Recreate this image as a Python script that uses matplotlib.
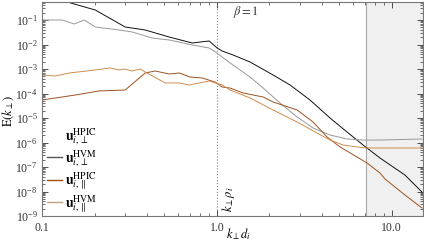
import matplotlib
matplotlib.use("Agg")
import matplotlib.pyplot as plt
from matplotlib.lines import Line2D
from matplotlib.ticker import LogLocator, FixedLocator, FixedFormatter, NullFormatter

plt.rcParams['font.family'] = ['Liberation Serif', 'DejaVu Serif']
plt.rcParams['mathtext.fontset'] = 'stix'

# HPIC perpendicular (black)
k_hpic_perp = [0.100, 0.1395, 0.2017, 0.299, 0.389, 0.534, 0.723, 0.803, 0.904, 1.004, 1.072,
               1.239, 1.549, 2.098, 2.624, 3.41, 4.44, 5.55, 6.86, 8.57, 11.9, 14.9]
E_hpic_perp = [1.0, 0.543, 0.256, 0.0518, 0.0391, 0.0202, 0.0115, 0.01265, 0.0139, 0.0072, 0.00543,
               0.00372, 0.00193, 5.69e-4, 2.22e-4, 5.43e-5, 1.0e-5, 2.69e-6, 7.9e-7, 2.33e-7, 4.71e-8, 9.5e-9]

# HVM perpendicular (gray)
k_hvm_perp = [0.100, 0.1306, 0.153, 0.1745, 0.2017, 0.2765, 0.328, 0.4266, 0.534, 0.723, 0.904, 1.004,
              1.072, 1.191, 1.549, 1.839, 2.30, 2.877, 3.55, 4.44, 5.55, 6.86, 8.57, 14.9]
E_hvm_perp = [0.1, 0.1, 0.0687, 0.1, 0.0518, 0.0391, 0.0324, 0.0184, 0.0153, 0.00955, 0.0072, 0.0045,
              0.00309, 0.00176, 4.71e-4, 1.67e-4, 4.09e-5, 1.1e-5, 3.91e-6, 2.02e-6, 1.39e-6, 1.26e-6, 1.26e-6, 1.39e-6]

# HPIC parallel (dark brown)
k_hpic_par = [0.100, 0.155, 0.212, 0.299, 0.389, 0.444, 0.534, 0.609, 0.703, 0.824, 0.978, 1.072,
              1.191, 1.413, 1.839, 2.098, 2.877, 3.55, 4.27, 5.07, 6.33, 7.22, 8.57, 9.16, 11.9, 14.9]
E_hpic_par = [5.43e-5, 8.69e-5, 1.27e-4, 1.39e-4, 6.87e-4, 8.28e-4, 6.25e-4, 6.87e-4, 4.71e-4, 4.3e-4, 2.94e-4, 1.84e-4,
              1.67e-4, 1.05e-4, 7.2e-5, 4.5e-5, 2.12e-5, 6.87e-6, 1.67e-6, 6.55e-7, 2.56e-7, 1.46e-7, 5.69e-8, 3.24e-8, 7.2e-9, 2.12e-9]

# HVM parallel (light orange)
k_hvm_par = [0.100, 0.119, 0.143, 0.2017, 0.2455, 0.2765, 0.295, 0.328, 0.365, 0.389, 0.507, 0.609, 0.695,
             0.904, 1.072, 1.191, 1.549, 2.098, 2.877, 3.74, 4.44, 5.27, 6.33, 7.22, 8.57, 14.9]
E_hvm_par = [5.69e-4, 5.18e-4, 6.87e-4, 9.12e-4, 1.1e-3, 9.12e-4, 1.0e-3, 8.28e-4, 1.0e-3, 7.55e-4, 2.69e-4, 2.69e-4, 2.22e-4,
             3.24e-4, 2.22e-4, 1.39e-4, 6.55e-5, 2.12e-5, 6.87e-6, 2.44e-6, 1.26e-6, 7.9e-7, 6.55e-7, 5.97e-7, 5.97e-7, 5.97e-7]

labels = [r'$\mathbf{u}_{i,\perp}^{\mathrm{HPIC}}$', r'$\mathbf{u}_{i,\perp}^{\mathrm{HVM}}$',
          r'$\mathbf{u}_{i,\parallel}^{\mathrm{HPIC}}$', r'$\mathbf{u}_{i,\parallel}^{\mathrm{HVM}}$']
xticks = [0.1, 1.0, 10.0]
xticklabels = ['0.1', '1.0', '10.0']
k_shade = 7.1
k_rho = 1.0

fig = plt.figure(figsize=(4.24, 2.48), dpi=100)
ax = fig.add_axes([42/424, 1-216/248, 381/424, 214/248])

ax.axvspan(k_shade, 100, color='#f0f0f0', zorder=0)
ax.axvline(k_shade, color='#aaaaaa', lw=0.8, zorder=1)
ax.axvline(k_rho, color='#888888', lw=0.8, ls=':', zorder=1)

l1, = ax.plot(k_hpic_perp, E_hpic_perp, color='#111111', lw=0.7)
l2, = ax.plot(k_hvm_perp, E_hvm_perp, color='#999999', lw=0.7)
l3, = ax.plot(k_hpic_par, E_hpic_par, color='#9c5220', lw=0.7)
l4, = ax.plot(k_hvm_par, E_hvm_par, color='#cf8d4f', lw=0.7)

ax.set_xscale('log')
ax.set_yscale('log')
ax.set_xlim(0.1, 15.1)
ax.set_ylim(1e-9, 0.543)

ax.xaxis.set_major_locator(FixedLocator(xticks))
ax.xaxis.set_major_formatter(FixedFormatter(xticklabels))
ax.xaxis.set_minor_locator(LogLocator(base=10, subs=range(2, 10)))
ax.xaxis.set_minor_formatter(NullFormatter())
ax.yaxis.set_major_locator(LogLocator(base=10, numticks=20))
ax.yaxis.set_minor_locator(LogLocator(base=10, subs=range(2, 10), numticks=20))
ax.yaxis.set_minor_formatter(NullFormatter())
ax.tick_params(which='both', direction='in', top=True, right=True, labelsize=8.5, colors='#333333')
ax.tick_params(which='major', length=4, width=0.6)
ax.tick_params(which='minor', length=2, width=0.5)
ax.tick_params(axis='y', pad=3)
ax.tick_params(axis='x', pad=4)
for s in ax.spines.values():
    s.set_color('#777777')
    s.set_linewidth(0.8)

ax.text(0.5, 0.955, r'$\beta = 1$', transform=ax.transAxes, ha='left', va='center', fontsize=9, color='#333333')
ax.text(1.04, 1.5e-9, r'$k_{\perp}\rho_i$', rotation=90, ha='left', va='bottom', fontsize=9)
ax.text(0.515, -0.085, r'$k_{\perp}d_i$', transform=ax.transAxes, ha='center', va='center', fontsize=9)
fig.text(8/424, 1-111/248, r'$\mathrm{E}(k_{\perp})$', rotation=90, ha='center', va='center', fontsize=9)

h1 = Line2D([], [], color='none')
h2 = Line2D([], [], color='#555555', lw=1.0)
h3 = Line2D([], [], color='#a0500f', lw=1.0)
h4 = Line2D([], [], color='#c0a080', lw=1.0)
ax.legend([h1, h2, h3, h4], labels, loc='lower left', frameon=False, fontsize=10,
          handlelength=1.1, handletextpad=0.2, labelspacing=0.1, borderaxespad=0.0,
          borderpad=0.1, bbox_to_anchor=(0.01, 0.0))

fig.savefig('out.png', dpi=100)
